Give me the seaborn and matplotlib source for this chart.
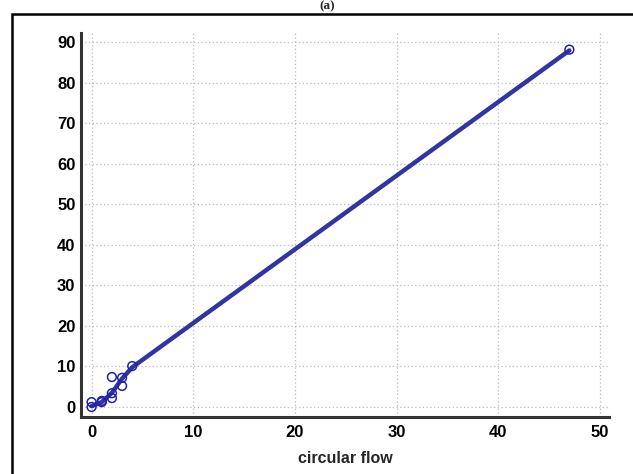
import numpy as np
import pandas as pd
import matplotlib
matplotlib.use("Agg")
import matplotlib.pyplot as plt
import seaborn as sns
from matplotlib.ticker import MultipleLocator
from matplotlib.patches import Rectangle

# observed points
obs_x = [0, 0, 1, 1, 2, 2, 2, 3, 3, 4, 47]
obs_y = [0.0, 1.2, 1.2, 1.5, 7.4, 2.2, 3.4, 7.2, 5.2, 10.1, 88.2]
# fitted curve
fit_x = [0, 1, 2, 3, 4, 47]
fit_y = [0.2, 1.2, 3.5, 7.0, 9.8, 88.0]

xticks = [0, 10, 20, 30, 40, 50]
yticks = [0, 10, 20, 30, 40, 50, 60, 70, 80, 90]
x_label = "circular flow"
title = "(a)"

sns.set_theme(style="white")
plt.rcParams['font.family'] = ['Liberation Sans', 'DejaVu Sans']

fig = plt.figure(figsize=(6.33, 4.74), dpi=100)
ax = fig.add_axes([81/633, 57/474, (609-81)/633, (417-33)/474])

pts = pd.DataFrame({"x": obs_x, "y": obs_y})
fit = pd.DataFrame({"x": fit_x, "y": fit_y})

sns.lineplot(data=fit, x="x", y="y", ax=ax, color="#3035a0", linewidth=3.2,
             zorder=3)
ax.scatter(pts["x"], pts["y"], s=40, facecolors="none", edgecolors="#2222aa",
           linewidths=1.1, zorder=4, clip_on=False)

ax.set_xlim(-1.04, 50.9)
ax.set_ylim(-2.47, 92.3)
ax.set_xticks(xticks)
ax.set_yticks(yticks)
ax.xaxis.set_minor_locator(MultipleLocator(5))
ax.yaxis.set_minor_locator(MultipleLocator(5))
ax.set_xticklabels([str(t) for t in xticks], fontweight="bold", fontsize=12)
ax.set_yticklabels([str(t) for t in yticks], fontweight="bold", fontsize=12)
ax.tick_params(which="major", direction="in", length=7.5, width=1.8,
               color="#333333", labelcolor="black")
ax.tick_params(axis="y", which="major", pad=4)
ax.tick_params(axis="x", which="major", pad=6)
ax.tick_params(which="minor", direction="in", length=4, width=1.0,
               color="#555555")
ax.set_xlabel(x_label, fontweight="bold", fontsize=11.5, labelpad=8)
ax.set_ylabel("")

ax.grid(True, which="major", linestyle=(0, (1, 2)), color="#bdbdbd",
        linewidth=0.9)
ax.set_axisbelow(True)
for s in ["top", "right"]:
    ax.spines[s].set_visible(False)
for s in ["left", "bottom"]:
    ax.spines[s].set_color("#333333")
    ax.spines[s].set_linewidth(2.2)

# outer frame
fig.patches.append(Rectangle((12/633, -0.1), 1.2, (474-14)/474 + 0.1,
                             transform=fig.transFigure, fill=False,
                             edgecolor="black", linewidth=1.8))
fig.text(327/633, 1 - 0.5/474, title, ha="center", va="top",
         fontsize=9.5, fontweight="bold", family=["Liberation Serif"])

fig.savefig("out.png", dpi=100)
